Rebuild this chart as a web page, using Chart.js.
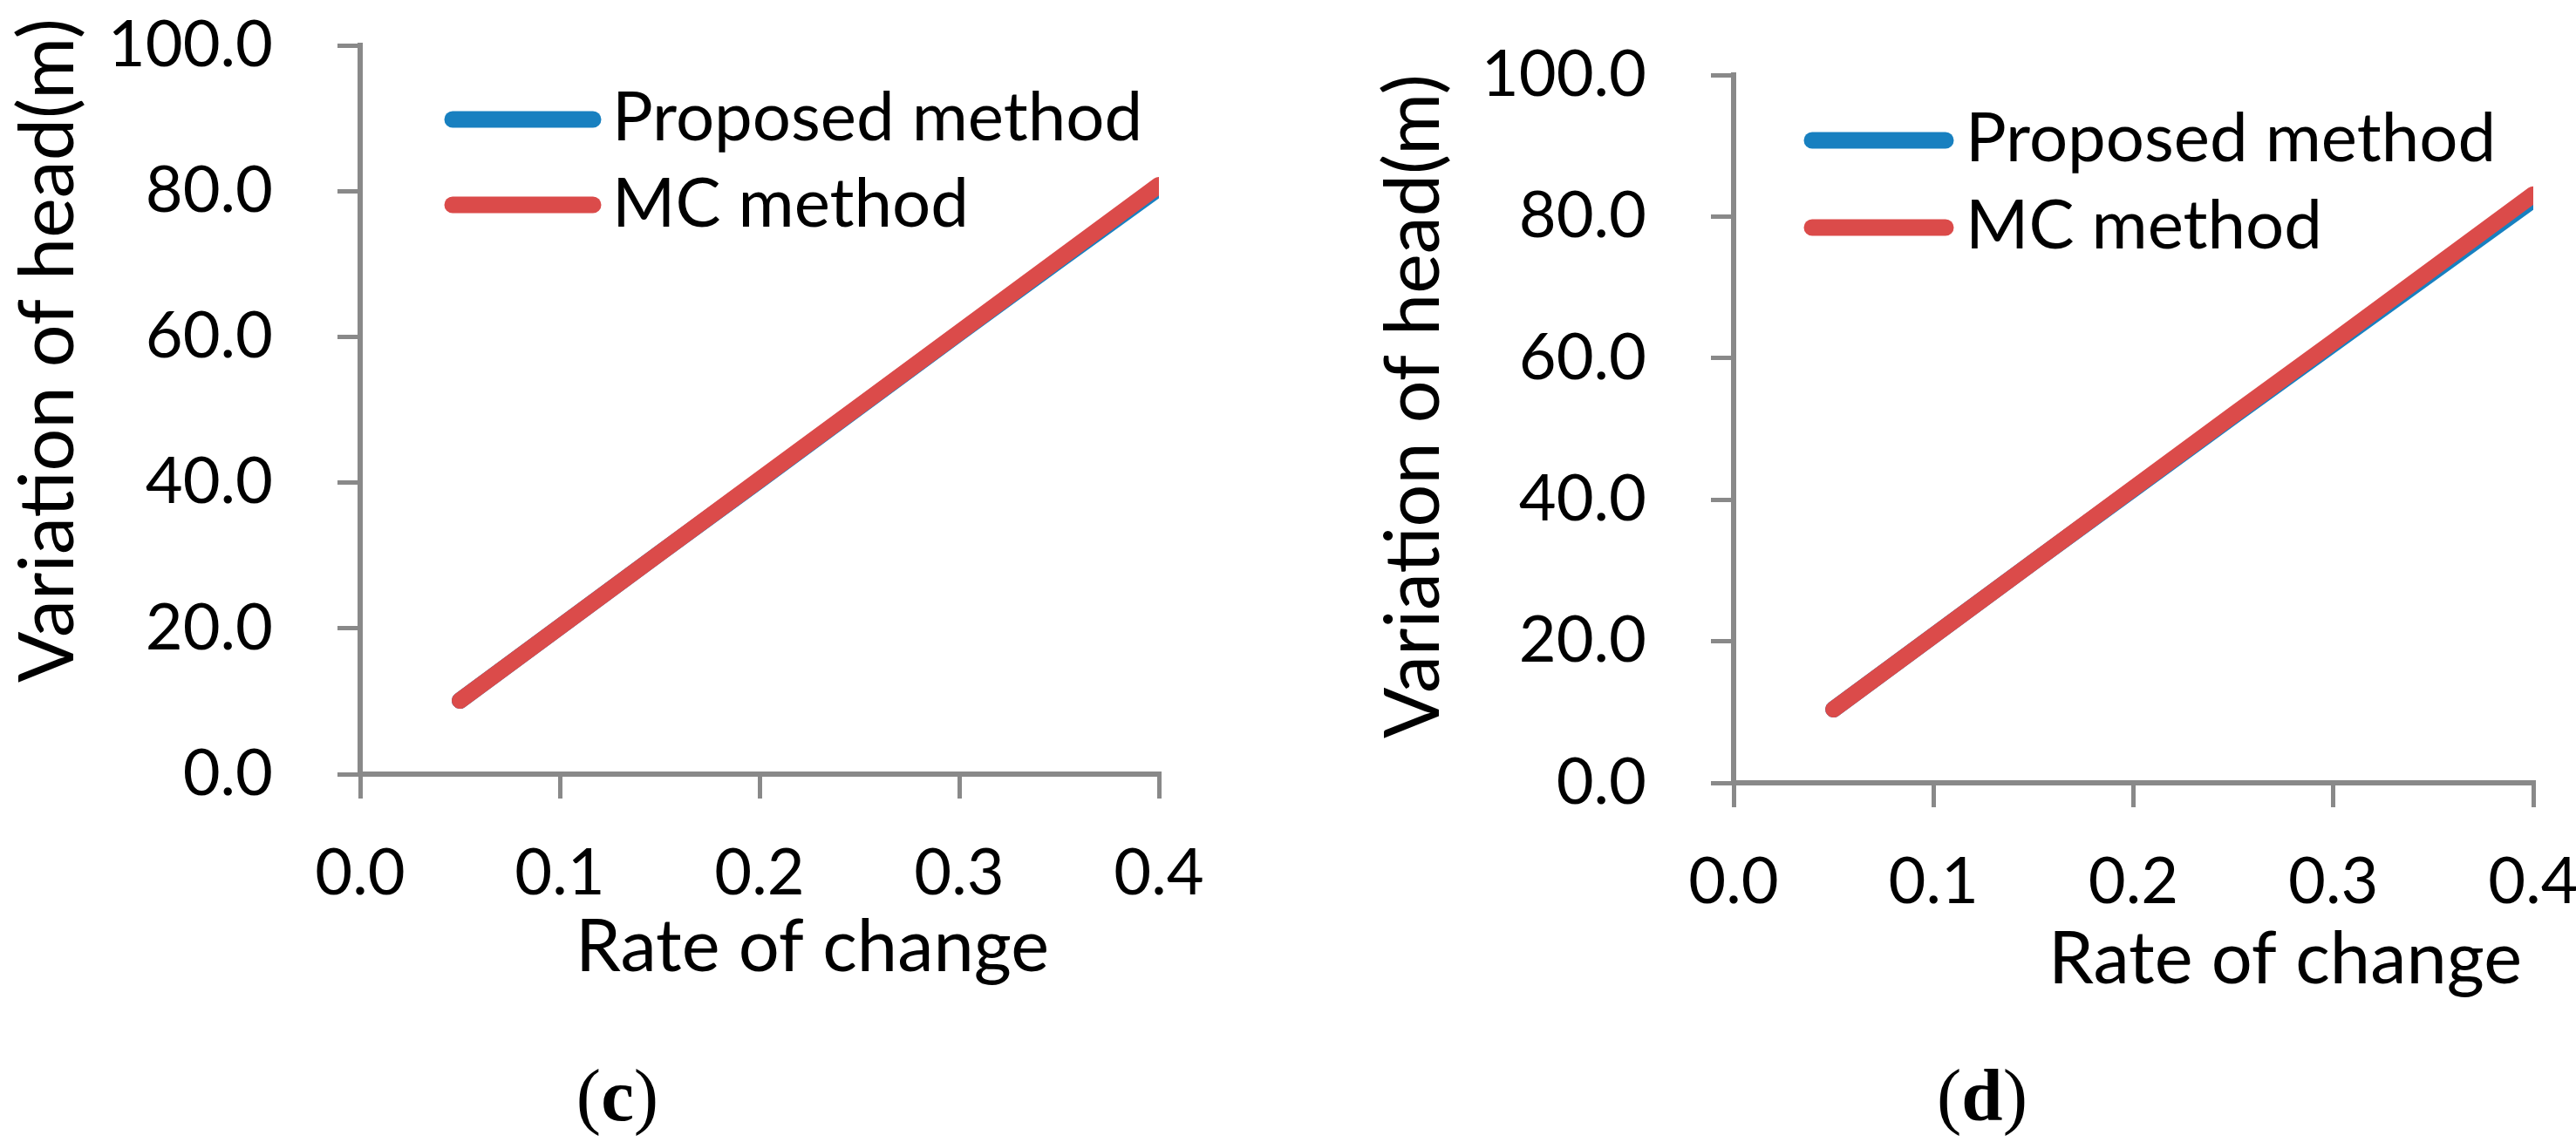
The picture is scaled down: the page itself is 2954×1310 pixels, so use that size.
<!DOCTYPE html>
<html><head><meta charset="utf-8">
<script src="https://cdn.jsdelivr.net/npm/chart.js@4.4.0/dist/chart.umd.min.js"></script>
<style>
html,body{margin:0;padding:0;background:#fff;overflow:hidden;width:2954px;height:1310px;position:relative}
canvas{position:absolute;top:0}
</style></head>
<body>
<canvas id="c1" width="1477" height="1310" style="left:0;width:1477px;height:1310px"></canvas>
<canvas id="c2" width="1537" height="1310" style="left:1477px;width:1537px;height:1310px"></canvas>
<script>
// ---- data ----
const rateOfChange = [0.05, 0.10, 0.15, 0.20, 0.25, 0.30, 0.35, 0.40];
const proposedC = [10.1, 20.2, 30.3, 40.3, 50.4, 60.5, 70.5, 80.4];
const mcC       = [10.1, 20.2, 30.3, 40.4, 50.5, 60.6, 70.7, 80.8];
const proposedD = [10.4, 20.8, 31.2, 41.5, 51.8, 62.0, 72.2, 82.4];
const mcD       = [10.4, 20.8, 31.2, 41.6, 52.0, 62.3, 72.7, 83.1];
const seriesNames = ['Proposed method', 'MC method'];
const xTickValues = [0, 0.1, 0.2, 0.3, 0.4];
const xTickLabels = ['0.0', '0.1', '0.2', '0.3', '0.4'];
const yTickValues = [0, 20, 40, 60, 80, 100];
const yTickLabels = ['0.0', '20.0', '40.0', '60.0', '80.0', '100.0'];
const xTitle = 'Rate of change';
const yTitle = 'Variation of head(m)';
const panelLabels = ['c', 'd'];

// ---- style ----
const BLUE = '#1880c0';
const RED = '#db4b4a';
const GRAY = '#898989';
const SANS = 'Lato';
const SERIF = '"Liberation Serif"';

const overlay = {
  id: 'overlay',
  afterDraw(chart, args, o) {
    const ctx = chart.ctx;
    ctx.save();
    ctx.fillStyle = '#000';
    // y title (sized to span the reference length)
    ctx.save();
    let ys = o.yTitleSize;
    ctx.font = ys + 'px ' + SANS;
    const w = ctx.measureText(yTitle).width;
    if (o.yTitleLen && w > 0) { ys = ys * o.yTitleLen / w; ctx.font = ys.toFixed(1) + 'px ' + SANS; }
    ctx.translate(o.yTitleX, o.yTitleY);
    ctx.rotate(-Math.PI / 2);
    ctx.textAlign = 'left';
    ctx.textBaseline = 'alphabetic';
    ctx.fillText(yTitle, 0, 0);
    ctx.restore();
    // x title
    ctx.font = o.xTitleSize + 'px ' + SANS;
    ctx.textAlign = 'left';
    ctx.textBaseline = 'alphabetic';
    ctx.fillText(xTitle, o.xTitleX, o.xTitleY);
    // legend
    chart.data.datasets.forEach((ds, i) => {
      ctx.save();
      ctx.strokeStyle = ds.borderColor;
      ctx.lineWidth = ds.borderWidth;
      ctx.lineCap = 'round';
      ctx.beginPath();
      ctx.moveTo(o.legX1, o.legY[i]);
      ctx.lineTo(o.legX2, o.legY[i]);
      ctx.stroke();
      ctx.restore();
      ctx.font = o.legSize + 'px ' + SANS;
      ctx.fillText(ds.label, o.legTextX, o.legBase[i]);
    });
    // caption
    const s = o.capSize;
    const pieces = [['(', s + 'px ' + SERIF], [o.panel, 'bold ' + s + 'px ' + SERIF], [')', s + 'px ' + SERIF]];
    let total = 0;
    pieces.forEach(p => { ctx.font = p[1]; p.push(ctx.measureText(p[0]).width); total += p[2]; });
    let x = o.capX - total / 2;
    pieces.forEach(p => { ctx.font = p[1]; ctx.fillText(p[0], x, o.capY); x += p[2]; });
    ctx.restore();
  }
};

function build(id, prop, mc, L, ov) {
  const mk = (arr) => rateOfChange.map((x, i) => ({ x: x, y: arr[i] }));
  return new Chart(document.getElementById(id), {
    type: 'line',
    data: {
      datasets: [
        { label: seriesNames[0], data: mk(prop), borderColor: BLUE, backgroundColor: BLUE, borderWidth: 19,
          pointRadius: 0, borderCapStyle: 'round', borderJoinStyle: 'round', tension: 0, fill: false, order: 2 },
        { label: seriesNames[1], data: mk(mc), borderColor: RED, backgroundColor: RED, borderWidth: 19,
          pointRadius: 0, borderCapStyle: 'round', borderJoinStyle: 'round', tension: 0, fill: false, order: 1 }
      ]
    },
    options: {
      responsive: false, animation: false, devicePixelRatio: 1, events: [],
      layout: { padding: { left: 0, top: L.top, right: L.W - L.right, bottom: 0 } },
      plugins: { legend: { display: false }, tooltip: { enabled: false }, overlay: ov },
      scales: {
        x: {
          type: 'linear', min: 0, max: 0.4,
          afterBuildTicks: s => { s.ticks = xTickValues.map(v => ({ value: v })); },
          afterFit: s => { s.height = L.H - L.bottom; s.paddingLeft = 0; s.paddingRight = 0; },
          ticks: { callback: (v, i) => xTickLabels[i], font: { family: SANS, size: 74 }, color: '#000',
                   padding: 42, maxRotation: 0, autoSkip: false },
          grid: { drawOnChartArea: false, drawTicks: true, tickLength: 28, color: GRAY, lineWidth: 5 },
          border: { display: true, color: GRAY, width: 6 }
        },
        y: {
          type: 'linear', min: 0, max: 100,
          afterBuildTicks: s => { s.ticks = yTickValues.map(v => ({ value: v })); },
          afterFit: s => { s.width = L.left; s.paddingTop = 0; s.paddingBottom = 0; },
          ticks: { callback: (v, i) => yTickLabels[i], font: { family: SANS, size: 74 }, color: '#000',
                   padding: 74, autoSkip: false },
          grid: { drawOnChartArea: false, drawTicks: true, tickLength: 26, color: GRAY, lineWidth: 5 },
          border: { display: true, color: GRAY, width: 6 }
        }
      }
    },
    plugins: [overlay]
  });
}

function go() {
  build('c1', proposedC, mcC,
    { W: 1477, H: 1310, left: 413, right: 1329, top: 52, bottom: 888 },
    { yTitleX: 84, yTitleY: 783, yTitleSize: 86, yTitleLen: 762, xTitleX: 660, xTitleY: 1114, xTitleSize: 83,
      legX1: 519, legX2: 680, legY: [137, 235], legTextX: 702, legBase: [161, 260], legSize: 78,
      capX: 708, capY: 1285, capSize: 85, panel: panelLabels[0] });
  build('c2', proposedD, mcD,
    { W: 1537, H: 1310, left: 511, right: 1428, top: 86, bottom: 898 },
    { yTitleX: 173, yTitleY: 847, yTitleSize: 86, yTitleLen: 762, xTitleX: 872, xTitleY: 1128, xTitleSize: 83,
      legX1: 601, legX2: 754, legY: [161, 261], legTextX: 777, legBase: [185, 285], legSize: 78,
      capX: 796, capY: 1285, capSize: 85, panel: panelLabels[1] });
}
const fl = [document.fonts.load('74px Lato'), document.fonts.load('bold 85px "Liberation Serif"'), document.fonts.load('85px "Liberation Serif"')];
Promise.all(fl).then(go, go);
</script>
</body></html>
